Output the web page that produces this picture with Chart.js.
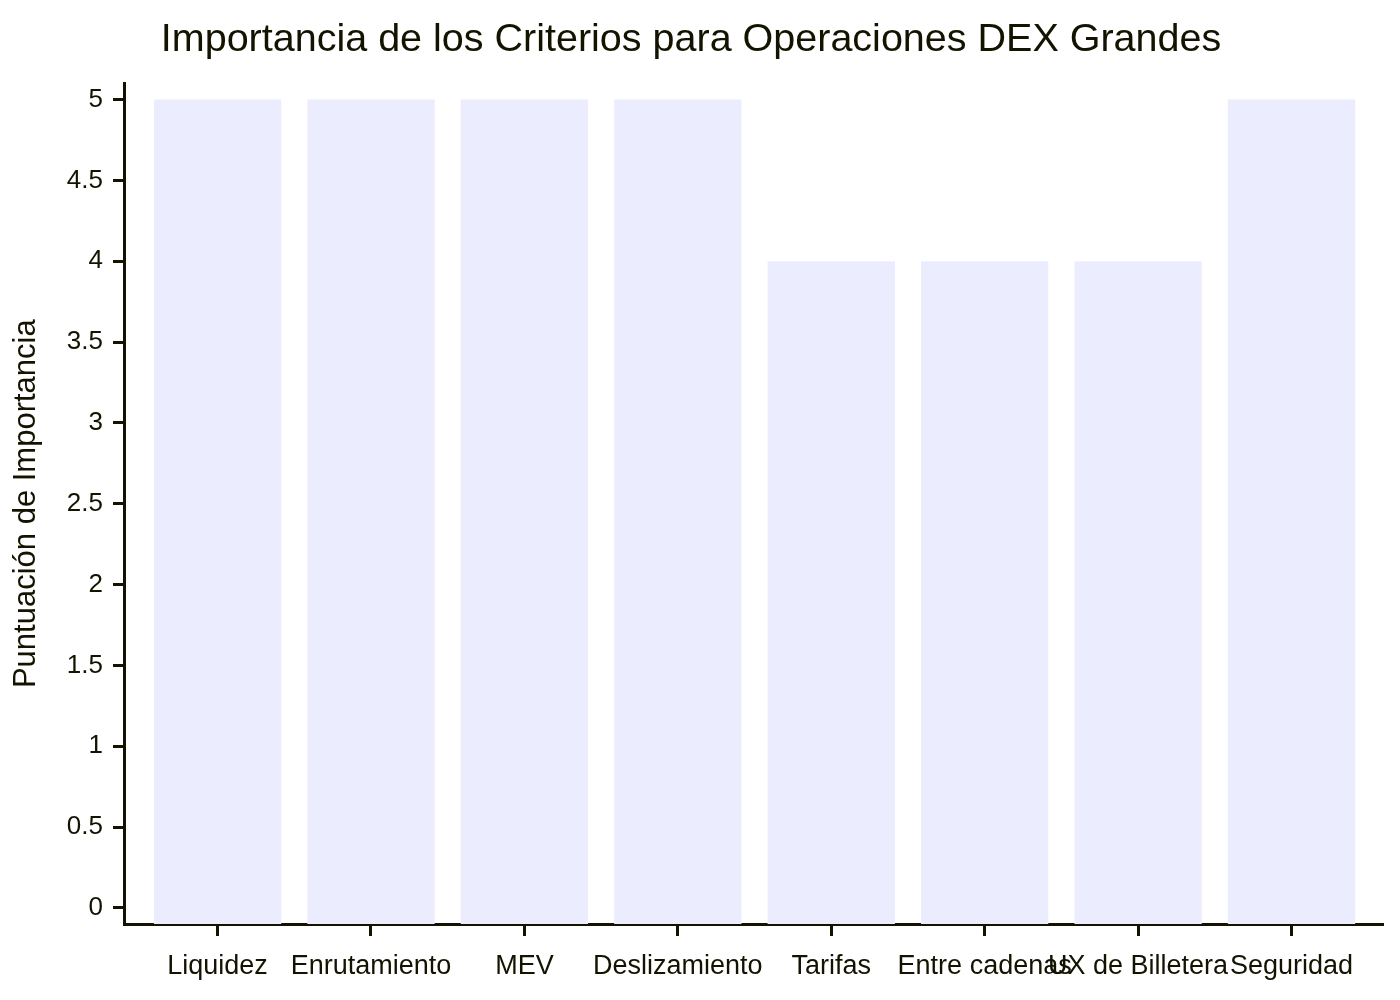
<!DOCTYPE html>
<html lang="es">
<head>
<meta charset="utf-8">
<title>Importancia de los Criterios</title>
<script src="https://cdn.jsdelivr.net/npm/chart.js@4.4.1/dist/chart.umd.min.js"></script>
<style>
  html,body{ margin:0; padding:0; background:#fff; }
  .wrap{ position:relative; width:1400px; height:1000px; }
</style>
</head>
<body>
<div class="wrap"><canvas id="chart-criterios"></canvas></div>
<script>
// ══════════════ DONNÉES ══════════════
const TITULO = 'Importancia de los Criterios para Operaciones DEX Grandes';
const EJE_Y = 'Puntuación de Importancia';
const CRITERIOS = ['Liquidez','Enrutamiento','MEV','Deslizamiento','Tarifas','Entre cadenas','UX de Billetera','Seguridad'];
const PUNTUACION = [5,5,5,5,4,4,4,5];
const TICKS_Y = [0,0.5,1,1.5,2,2.5,3,3.5,4,4.5,5];

const INK = '#131300';
const BAR = '#ECECFF';
const FONT = '"Liberation Sans", Arial, sans-serif';

function buildBars(canvasId){
  const canvas = document.getElementById(canvasId);
  return new Chart(canvas, {
    type: 'bar',
    data: {
      datasets: [{
        label: EJE_Y,
        data: CRITERIOS.map((c,i)=>({ x:i, y:PUNTUACION[i] })),
        backgroundColor: BAR,
        borderWidth: 0,
        base: -0.1,
        barPercentage: 0.83,
        categoryPercentage: 1
      }]
    },
    options: {
      responsive: true,
      maintainAspectRatio: false,
      animation: false,
      layout: { padding: { left:0, right:18, top:0, bottom:0 } },
      plugins: {
        legend: { display:false },
        tooltip: { enabled:false },
        title: {
          display: true, text: TITULO, color: INK,
          font: { family: FONT, size: 39.5, weight: 'normal' },
          padding: { top: 16, bottom: 20 }
        }
      },
      scales: {
        x: {
          type: 'linear', min: -0.61, max: 7.59, offset: false, z: 1,
          afterBuildTicks: s => { s.ticks = CRITERIOS.map((c,i)=>({ value:i })); },
          afterFit: s => { s.height = 76; },
          grid: { offset:false, drawOnChartArea:false, drawTicks:true, tickLength:12, tickColor:INK, lineWidth:3 },
          border: { display:true, color:INK, width:3 },
          ticks: {
            autoSkip:false, maxRotation:0, padding:14, color:INK,
            font: { family: FONT, size: 27 },
            callback: v => CRITERIOS[v]
          }
        },
        y: {
          min: -0.1, max: 5.1, z: 1,
          afterBuildTicks: s => { s.ticks = TICKS_Y.map(v=>({ value:v })); },
          afterFit: s => { s.width = 124; },
          grid: { drawOnChartArea:false, drawTicks:true, tickLength:11, tickColor:INK, lineWidth:3 },
          border: { display:true, color:INK, width:3 },
          ticks: { padding:10, color:INK, font: { family: FONT, size: 26 }, callback: v => String(v) },
          title: {
            display: true, text: EJE_Y, color: INK,
            font: { family: FONT, size: 31 },
            padding: { top: 8, bottom: 0 }
          }
        }
      }
    }
  });
}

buildBars('chart-criterios');
</script>
</body>
</html>
